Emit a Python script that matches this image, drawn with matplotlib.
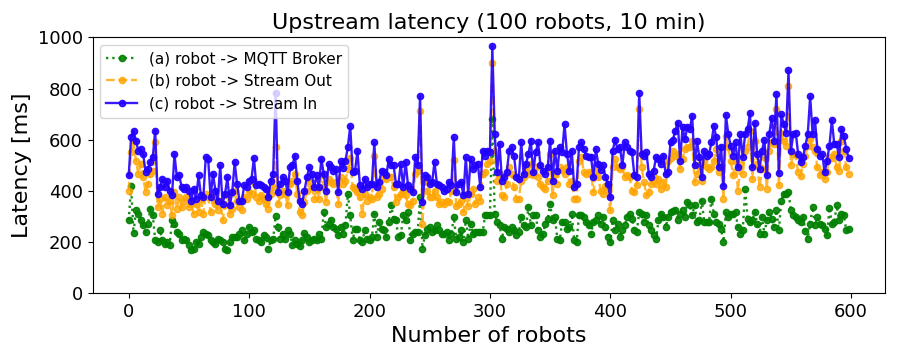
import matplotlib
matplotlib.use("Agg")
import matplotlib.pyplot as plt

# x axis: one sample every 2 s over 10 min
robots = list(range(0, 600, 2))

# (a) robot -> MQTT Broker
lat_broker = [
    284, 417, 235, 323, 310, 284, 265, 239, 271, 330,
    305, 206, 200, 245, 206, 190, 200, 187, 284, 271,
    239, 230, 206, 213, 206, 187, 167, 174, 200, 193,
    219, 239, 232, 226, 206, 200, 190, 213, 206, 200,
    174, 167, 200, 219, 219, 219, 232, 245, 206, 232,
    258, 239, 245, 213, 206, 200, 226, 219, 174, 206,
    213, 300, 258, 213, 232, 213, 245, 232, 187, 206,
    193, 183, 206, 235, 219, 200, 206, 213, 209, 232,
    213, 317, 258, 271, 284, 258, 252, 226, 258, 232,
    265, 388, 304, 206, 252, 252, 206, 200, 245, 213,
    206, 219, 310, 219, 278, 252, 245, 219, 278, 343,
    291, 284, 219, 226, 304, 284, 317, 206, 232, 239,
    240, 375, 174, 226, 252, 258, 239, 245, 265, 245,
    232, 232, 239, 206, 232, 297, 213, 219, 245, 200,
    284, 213, 271, 232, 239, 239, 239, 239, 304, 304,
    304, 680, 310, 278, 265, 213, 258, 252, 239, 258,
    245, 226, 239, 297, 265, 258, 336, 265, 304, 304,
    245, 219, 232, 271, 291, 349, 284, 297, 213, 206,
    278, 278, 252, 258, 310, 206, 200, 304, 304, 297,
    278, 265, 232, 278, 284, 304, 271, 297, 258, 219,
    200, 284, 245, 271, 219, 245, 265, 297, 310, 291,
    245, 239, 317, 310, 278, 304, 265, 245, 226, 213,
    284, 310, 297, 258, 297, 317, 321, 326, 284, 310,
    323, 297, 356, 343, 304, 343, 278, 284, 362, 278,
    278, 278, 369, 310, 278, 271, 250, 200, 317, 297,
    310, 310, 317, 258, 232, 245, 408, 291, 278, 284,
    317, 271, 232, 297, 232, 284, 317, 291, 258, 323,
    245, 362, 388, 388, 395, 323, 304, 297, 284, 278,
    297, 243, 213, 271, 336, 265, 297, 271, 268, 252,
    226, 334, 271, 278, 343, 284, 310, 304, 245, 252,
]

# (b) robot -> Stream Out
lat_out = [
    401, 551, 596, 518, 466, 505, 453, 395, 427, 466,
    479, 589, 336, 369, 310, 375, 343, 362, 304, 395,
    330, 375, 336, 362, 375, 336, 349, 310, 349, 317,
    369, 310, 388, 375, 317, 375, 349, 323, 362, 284,
    343, 382, 310, 330, 401, 362, 336, 323, 375, 369,
    395, 388, 440, 375, 362, 382, 369, 349, 330, 388,
    414, 570, 349, 382, 401, 388, 343, 427, 440, 466,
    388, 317, 304, 356, 401, 440, 414, 369, 408, 369,
    460, 414, 356, 447, 434, 427, 434, 349, 453, 427,
    440, 486, 530, 414, 408, 395, 375, 310, 388, 362,
    375, 369, 538, 375, 388, 408, 453, 447, 453, 453,
    414, 356, 375, 388, 401, 382, 349, 343, 362, 466,
    479, 713, 271, 440, 401, 375, 375, 401, 375, 349,
    356, 349, 362, 356, 401, 520, 340, 349, 362, 317,
    388, 340, 388, 408, 349, 375, 362, 466, 473, 505,
    518, 900, 557, 440, 466, 382, 375, 427, 492, 466,
    414, 369, 369, 440, 453, 486, 466, 505, 460, 492,
    453, 427, 414, 408, 440, 544, 382, 466, 427, 492,
    480, 466, 492, 427, 440, 369, 369, 518, 531, 473,
    466, 473, 466, 395, 479, 453, 401, 388, 420, 400,
    323, 492, 525, 492, 486, 492, 453, 460, 453, 401,
    395, 421, 719, 492, 434, 382, 395, 427, 453, 427,
    447, 408, 434, 414, 518, 530, 557, 537, 544, 486,
    525, 563, 570, 570, 596, 434, 466, 499, 440, 518,
    492, 486, 492, 518, 563, 473, 492, 369, 615, 570,
    518, 460, 518, 401, 505, 466, 557, 570, 635, 447,
    596, 505, 414, 486, 531, 408, 557, 590, 583, 719,
    421, 625, 596, 574, 810, 500, 545, 540, 472, 456,
    505, 538, 577, 603, 570, 557, 492, 460, 475, 447,
    473, 531, 530, 545, 492, 479, 596, 557, 492, 466,
]

# (c) robot -> Stream In
lat_in = [
    460, 609, 635, 596, 557, 563, 544, 473, 486, 512,
    531, 635, 388, 414, 447, 414, 440, 401, 382, 544,
    453, 460, 414, 408, 414, 401, 362, 408, 369, 460,
    382, 375, 531, 525, 375, 466, 401, 362, 499, 349,
    388, 453, 343, 395, 512, 427, 362, 362, 421, 414,
    440, 447, 528, 421, 427, 421, 414, 408, 375, 440,
    466, 784, 395, 427, 453, 440, 395, 492, 499, 538,
    440, 362, 349, 401, 453, 492, 466, 414, 460, 414,
    525, 466, 401, 505, 492, 479, 486, 395, 515, 490,
    518, 570, 654, 473, 479, 557, 421, 408, 447, 414,
    427, 427, 589, 414, 434, 479, 473, 460, 525, 499,
    499, 427, 427, 505, 414, 512, 421, 408, 395, 531,
    500, 771, 356, 460, 453, 427, 434, 512, 427, 421,
    414, 401, 408, 434, 421, 609, 395, 427, 434, 382,
    531, 388, 525, 486, 499, 505, 414, 557, 538, 557,
    550, 966, 622, 473, 583, 440, 453, 473, 557, 570,
    538, 453, 447, 589, 466, 505, 544, 596, 473, 550,
    589, 499, 479, 466, 492, 596, 440, 557, 479, 570,
    550, 661, 544, 479, 557, 414, 427, 570, 589, 563,
    538, 531, 531, 453, 563, 505, 480, 499, 453, 427,
    375, 557, 599, 563, 570, 499, 589, 570, 557, 550,
    460, 453, 784, 544, 538, 550, 466, 453, 479, 531,
    525, 505, 538, 466, 473, 590, 600, 635, 667, 518,
    648, 602, 650, 641, 693, 499, 593, 531, 453, 557,
    538, 544, 589, 654, 609, 492, 573, 418, 697, 622,
    576, 538, 590, 492, 622, 531, 622, 642, 703, 492,
    667, 544, 486, 557, 599, 460, 622, 684, 596, 780,
    469, 700, 661, 628, 871, 557, 622, 628, 544, 512,
    531, 577, 622, 769, 622, 676, 564, 538, 545, 473,
    518, 577, 676, 583, 583, 531, 642, 615, 564, 527,
]

fig, ax = plt.subplots(figsize=(9, 3.6), dpi=100)
fig.subplots_adjust(left=0.103, right=0.983, top=0.896, bottom=0.186)

ax.plot(robots, lat_broker, ':', color='green', marker='o', markersize=4.5,
        linewidth=1.7, alpha=0.9, label='(a) robot -> MQTT Broker')
ax.plot(robots, lat_out, '--', color='orange', marker='o', markersize=4.5,
        linewidth=1.7, alpha=0.8, label='(b) robot -> Stream Out')
ax.plot(robots, lat_in, '-', color='#2200ff', marker='o', markersize=4.5,
        linewidth=1.7, alpha=0.9, label='(c) robot -> Stream In')

ax.set_ylim(0, 1000)
ax.set_title('Upstream latency (100 robots, 10 min)', fontsize=16)
ax.set_xlabel('Number of robots', fontsize=16)
ax.set_ylabel('Latency [ms]', fontsize=16)
ax.tick_params(labelsize=13)
ax.legend(loc='upper left', fontsize=11)

fig.savefig('out.png')
